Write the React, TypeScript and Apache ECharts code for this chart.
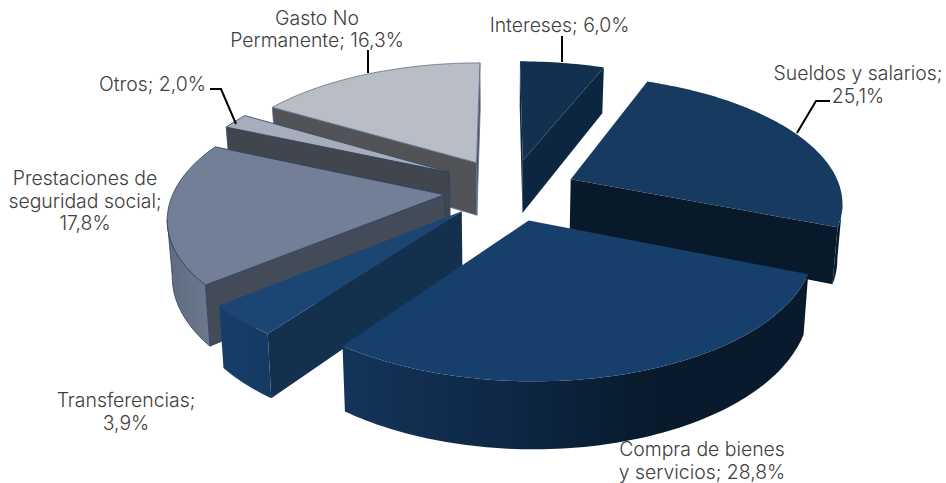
import React, { useEffect, useRef } from "react";
import * as echarts from "echarts";

// Data (clockwise from 12 o'clock)
const categories = [
  "Intereses",
  "Sueldos y salarios",
  "Compra de bienes\ny servicios",
  "Transferencias",
  "Prestaciones de\nseguridad social",
  "Otros",
  "Gasto No\nPermanente",
];
const values = [6.0, 25.1, 28.8, 3.9, 17.8, 2.0, 16.3];
const separators = ["; ", ";\n", "; ", ";\n", ";\n", "; ", "; "];

// Styling and layout
const topColors = ["#12304f", "#173a60", "#173f6b", "#1b4674", "#727f96", "#a7adbb", "#b9bdc6"];
const radialColors = ["#0c2640", "#08192a", "#0a1a2c", "#13304f", "#444b58", "#41454e", "#515357"];
const outerColors: string[][] = [
  ["#0c2640", "#0c2640"],
  ["#0b1c30", "#08192a"],
  ["#14345a", "#0e2846", "#081a2b", "#081a2b"],
  ["#163e69", "#143a62"],
  ["#5f6b80", "#6d788d"],
  ["#70798c", "#70798c"],
  ["#7c8aa0", "#7c8aa0"],
];
const strokeColors = [null, null, null, null, "#2c4364", "#2c4364", "#5f7290"];
// Disc-plane displacement of each exploded slice
const explodeU = [0.08, 0.258, 0.095, -0.145, -0.212, -0.199, -0.098];
const explodeV = [-0.198, -0.04, 0.285, 0.215, 0.087, -0.097, -0.18];
const drawOrder = [6, 5, 0, 4, 1, 3, 2];

const CX = 502;
const CY = 184;
const RX = 268;
const RY = 122;
const PERSPECTIVE = 0.16;
const DEPTH = 54;
const FLOOR_SHRINK = 0.985;

const labelPos: [number, number][] = [
  [559.5, 25],
  [858, 84.5],
  [702, 460.5],
  [126, 411.5],
  [85, 200.5],
  [152.5, 84],
  [317, 29],
];
const leaders: [number, number][][] = [
  [[562, 36], [562, 62]],
  [[830, 101], [816, 101], [797, 133]],
  [[368, 50], [368, 73]],
  [[210, 89], [221, 89], [236, 124]],
];

const total = values.reduce((a, b) => a + b, 0);
const startAt = (i: number) => (values.slice(0, i).reduce((a, b) => a + b, 0) / total) * Math.PI * 2;

function project(u: number, v: number, floor: boolean): [number, number] {
  const s = 1 / (1 - PERSPECTIVE * v);
  const x = RX * u * s;
  const y = CY + RY * v * s;
  return floor ? [CX + x * FLOOR_SHRINK, y + DEPTH * s] : [CX + x, y];
}

function renderSlice(_params: any, api: any) {
  const value = api.value(0);
  const i = api.value(1);
  const a0 = startAt(i);
  const a1 = a0 + (value / total) * Math.PI * 2;
  const ou = explodeU[i];
  const ov = explodeV[i];
  const steps = Math.max(6, Math.round(value * 3));
  const at = (a: number, r: number, floor: boolean) =>
    project(ou + r * Math.sin(a), ov - r * Math.cos(a), floor);
  const topArc: [number, number][] = [];
  const floorArc: [number, number][] = [];
  for (let k = 0; k <= steps; k++) {
    const a = a0 + ((a1 - a0) * k) / steps;
    topArc.push(at(a, 1, false));
    floorArc.push(at(a, 1, true));
  }
  const apexTop = project(ou, ov, false);
  const apexFloor = project(ou, ov, true);
  const inner = at((a0 + a1) / 2, 0.5, false);
  const stroke = strokeColors[i];
  const lineStyle = stroke ? { stroke, lineWidth: 0.8 } : { stroke: null };
  const children: any[] = [];

  const radial = (pTop: [number, number], pFloor: [number, number]) => {
    const ex = pTop[0] - apexTop[0];
    const ey = pTop[1] - apexTop[1];
    const crossDown = ex;
    const crossInner = ex * (inner[1] - apexTop[1]) - ey * (inner[0] - apexTop[0]);
    if (crossDown * crossInner < 0) {
      children.push({
        type: "polygon",
        shape: { points: [apexTop, pTop, pFloor, apexFloor] },
        style: { fill: radialColors[i], ...lineStyle },
      });
    }
  };
  radial(topArc[0], floorArc[0]);
  radial(topArc[steps], floorArc[steps]);

  // Outer wall: only the part of the rim that turns towards the viewer
  const runTop: [number, number][] = [];
  const runFloor: [number, number][] = [];
  for (let k = 0; k < steps; k++) {
    if (topArc[k + 1][0] < topArc[k][0]) {
      if (!runTop.length) {
        runTop.push(topArc[k]);
        runFloor.push(floorArc[k]);
      }
      runTop.push(topArc[k + 1]);
      runFloor.push(floorArc[k + 1]);
    }
  }
  if (runTop.length > 1) {
    const stops = outerColors[i];
    const fill = new echarts.graphic.LinearGradient(
      0, 0, 1, 0,
      stops.map((color, n) => ({ offset: n / (stops.length - 1), color }))
    );
    children.push({
      type: "polygon",
      shape: { points: [...runTop, ...runFloor.slice().reverse()] },
      style: { fill, ...lineStyle },
    });
  }

  children.push({
    type: "polygon",
    shape: { points: [apexTop, ...topArc] },
    style: { fill: topColors[i], ...lineStyle },
  });
  return { type: "group", children };
}

const labelOf = (i: number) =>
  `${categories[i]}${separators[i]}${values[i].toFixed(1).replace(".", ",")}%`;

export default function App() {
  const ref = useRef<HTMLDivElement>(null);
  useEffect(() => {
    document.body.style.margin = "0";
    const chart = echarts.init(ref.current!, undefined, { renderer: "svg" });
    chart.setOption({
      animation: false,
      backgroundColor: "#ffffff",
      series: [
        {
          type: "custom",
          coordinateSystem: "none",
          renderItem: renderSlice,
          silent: true,
          data: drawOrder.map((i) => [values[i], i]),
        },
      ],
      graphic: [
        ...leaders.map((pts) => ({
          type: "polyline",
          shape: { points: pts },
          style: { stroke: "#000000", lineWidth: 2, fill: null },
          z: 20,
        })),
        ...values.map((_, i) => ({
          type: "text",
          x: labelPos[i][0],
          y: labelPos[i][1],
          z: 20,
          style: {
            text: labelOf(i),
            fill: "#404040",
            font: '300 19.4px Inter, "Open Sans", sans-serif',
            lineHeight: 22.5,
            align: "center",
            verticalAlign: "middle",
          },
        })),
      ],
    });
    return () => chart.dispose();
  }, []);
  return <div ref={ref} style={{ width: 946, height: 483, overflow: "hidden" }} />;
}
